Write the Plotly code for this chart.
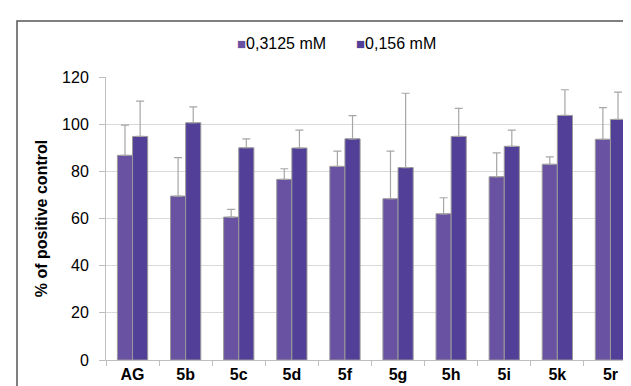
import plotly.graph_objects as go

categories = ["AG", "5b", "5c", "5d", "5f", "5g", "5h", "5i", "5k", "5r"]
series_names = ["0,3125 mM", "0,156 mM"]
vals_high = [86.8, 69.5, 60.6, 76.6, 82.1, 68.4, 62.0, 77.7, 83.0, 93.6]
err_high = [12.8, 16.3, 3.3, 4.5, 6.5, 20.2, 6.8, 10.1, 3.1, 13.4]
vals_low = [94.8, 100.6, 90.0, 89.9, 93.8, 81.6, 94.8, 90.6, 103.7, 102.0]
err_low = [15.0, 6.7, 3.8, 7.6, 9.8, 31.5, 11.9, 6.9, 10.9, 11.6]
colors = ["#6a52a3", "#523f98"]

FONT = "Liberation Sans, Arial, sans-serif"

fig = go.Figure()
for name, v, e, c in [(series_names[0], vals_high, err_high, colors[0]),
                      (series_names[1], vals_low, err_low, colors[1])]:
    fig.add_trace(go.Bar(
        x=categories, y=v, name=name, showlegend=False,
        marker=dict(color=c, line=dict(color="#9a9a9a", width=1)),
        error_y=dict(type="data", array=e, symmetric=False, arrayminus=[0]*len(e),
                     color="#a6a6a6", thickness=1.2, width=4),
    ))

L, R, T, B = 98, 2, 69, 34
W, H = 631, 386
pw, ph = W - L - R, H - T - B

# legend drawn as text items (square marker + label)
legend_x = [227, 346]
annotations = []
for name, c, lx in zip(series_names, colors, legend_x):
    annotations.append(dict(
        xref="paper", yref="paper", x=(lx - L) / pw, y=1 + (T - 35) / ph,
        xanchor="left", yanchor="middle", showarrow=False,
        text=f"<span style='color:{c};font-size:15px'>■</span>{name}",
        font=dict(size=16, family=FONT, color="#000"),
    ))

fig.update_layout(
    width=W, height=H,
    margin=dict(l=L, r=R, t=T, b=B),
    paper_bgcolor="white", plot_bgcolor="white",
    barmode="group", bargap=0.43, bargroupgap=0,
    font=dict(family=FONT, color="#000"),
    showlegend=False,
    annotations=annotations,
    xaxis=dict(showgrid=False, showline=True, linecolor="#bfbfbf", linewidth=1,
               ticks="outside", tickson="boundaries", ticklen=5, tickcolor="#bfbfbf",
               tickfont=dict(size=16, family=FONT),
               tickprefix="<b>", ticksuffix="</b>", ticklabelstandoff=0),
    yaxis=dict(range=[0, 120], dtick=20, showgrid=True, gridcolor="#d9d9d9",
               showline=True, linecolor="#bfbfbf", linewidth=1,
               ticks="outside", ticklen=6, tickcolor="#bfbfbf",
               tickfont=dict(size=16), zeroline=False, ticklabelstandoff=7,
               title=dict(text="<b>% of positive control</b>", font=dict(size=16), standoff=10)),
    shapes=[dict(type="rect", xref="paper", yref="paper",
                 x0=(9 - L) / pw, x1=1 + 20 / pw,
                 y0=-(B + 20) / ph, y1=1 + (T - 13) / ph,
                 line=dict(color="#555555", width=1.5), fillcolor="rgba(0,0,0,0)", layer="below")],
)

fig.write_html("out.html")
